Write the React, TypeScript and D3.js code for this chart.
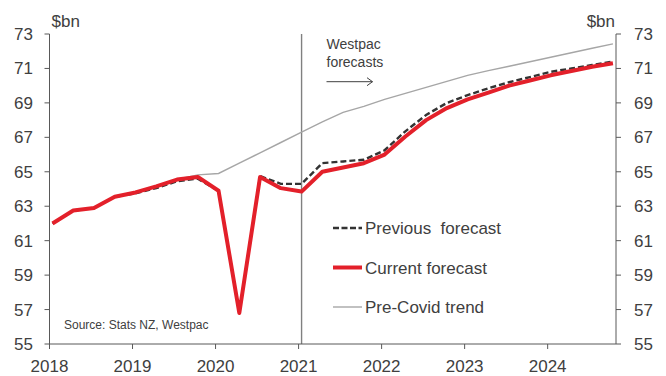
import React from "react";
import * as d3 from "d3";

// Quarterly nominal values, $bn
const quarters = [
  "2018Q1", "2018Q2", "2018Q3", "2018Q4",
  "2019Q1", "2019Q2", "2019Q3", "2019Q4",
  "2020Q1", "2020Q2", "2020Q3", "2020Q4",
  "2021Q1", "2021Q2", "2021Q3", "2021Q4",
  "2022Q1", "2022Q2", "2022Q3", "2022Q4",
  "2023Q1", "2023Q2", "2023Q3", "2023Q4",
  "2024Q1", "2024Q2", "2024Q3", "2024Q4",
];

const currentForecast = [
  62.0, 62.75, 62.9, 63.55,
  63.8, 64.15, 64.55, 64.7,
  63.9, 56.8, 64.7, 64.05,
  63.85, 65.0, 65.25, 65.5,
  66.0, 67.05, 68.0, 68.7,
  69.2, 69.6, 70.0, 70.3,
  70.6, 70.85, 71.1, 71.3,
];

const previousForecast = [
  62.0, 62.75, 62.9, 63.55,
  63.75, 64.05, 64.45, 64.6,
  63.9, 56.8, 64.75, 64.3,
  64.3, 65.5, 65.6, 65.7,
  66.25, 67.35, 68.3, 69.0,
  69.45, 69.85, 70.2, 70.5,
  70.8, 71.0, 71.2, 71.4,
];

const preCovidTrend: (number | null)[] = [
  null, null, null, null,
  null, null, 64.55, 64.82,
  64.9, 65.5, 66.1, 66.7,
  67.3, 67.9, 68.45, 68.8,
  69.2, 69.55, 69.9, 70.25,
  70.6, 70.87, 71.13, 71.39,
  71.65, 71.91, 72.17, 72.43,
];

const yearTicks = [2018, 2019, 2020, 2021, 2022, 2023, 2024];
const valueTicks = [55, 57, 59, 61, 63, 65, 67, 69, 71, 73];
const forecastStart = "2021Q1";

const legendItems = [
  { label: "Previous  forecast", key: "prev" },
  { label: "Current forecast", key: "curr" },
  { label: "Pre-Covid trend", key: "trend" },
];

const W = 666;
const H = 376;
const margin = { left: 49.5, right: 50, top: 34, bottom: 32 };
const font = "'Liberation Sans', Arial, Helvetica, sans-serif";
const textColor = "#404040";
const axisColor = "#595959";

// Each quarter sits just past the start of its slot on the time axis
const quarterToYear = (q: string) =>
  +q.slice(0, 4) + (+q.slice(5) - 1) * 0.25 + 0.036;

export default function App() {
  const x = d3
    .scaleLinear()
    .domain([2018, 2024.823])
    .range([margin.left, W - margin.right]);
  const y = d3
    .scaleLinear()
    .domain([55, 73])
    .range([H - margin.bottom, margin.top]);

  const line = d3
    .line<[string, number | null]>()
    .defined((d) => d[1] !== null)
    .x((d) => x(quarterToYear(d[0])))
    .y((d) => y(d[1] as number));

  const zip = (vals: (number | null)[]) =>
    quarters.map((q, i) => [q, vals[i]] as [string, number | null]);

  const x0 = x.range()[0];
  const x1 = x.range()[1];
  const yB = y.range()[0];
  const yT = y.range()[1];
  const vx = x(quarterToYear(forecastStart));

  const legendX = 333;
  const legendY0 = 228;
  const legendStep = 39.5;

  return (
    <svg
      width={W}
      height={H}
      style={{ position: "absolute", left: 0, top: 0, display: "block", background: "#fff" }}
      fontFamily={font}
    >
      {/* forecast divider */}
      <line x1={vx} x2={vx} y1={yT} y2={yB} stroke="#808080" strokeWidth={1.4} />

      {/* series */}
      <path d={line(zip(preCovidTrend)) || ""} fill="none" stroke="#a6a6a6" strokeWidth={1.4} />
      <path
        d={line(zip(previousForecast)) || ""}
        fill="none"
        stroke="#333333"
        strokeWidth={2.4}
        strokeDasharray="6,3"
      />
      <path
        d={line(zip(currentForecast)) || ""}
        fill="none"
        stroke="#e3202a"
        strokeWidth={4}
        strokeLinejoin="round"
      />

      {/* axes */}
      <line x1={x0} x2={x0} y1={yT} y2={yB} stroke={axisColor} strokeWidth={1} />
      <line x1={x1} x2={x1} y1={yT} y2={yB} stroke={axisColor} strokeWidth={1} />
      <line x1={x0} x2={x1} y1={yB} y2={yB} stroke={axisColor} strokeWidth={1} />
      {valueTicks.map((v) => (
        <g key={v}>
          <line x1={x0 - 5} x2={x0} y1={y(v)} y2={y(v)} stroke={axisColor} />
          <line x1={x1} x2={x1 + 5} y1={y(v)} y2={y(v)} stroke={axisColor} />
          <text x={33} y={y(v) + 6} textAnchor="end" fontSize={17} fill={textColor}>
            {v}
          </text>
          <text x={634} y={y(v) + 6} textAnchor="start" fontSize={17} fill={textColor}>
            {v}
          </text>
        </g>
      ))}
      {yearTicks.map((t) => (
        <g key={t}>
          <line x1={x(t)} x2={x(t)} y1={yB} y2={yB + 5} stroke={axisColor} />
          <text x={x(t)} y={372} textAnchor="middle" fontSize={17} fill={textColor}>
            {t}
          </text>
        </g>
      ))}
      <text x={51.5} y={26.5} fontSize={17} fill={textColor}>
        $bn
      </text>
      <text x={615} y={26.5} textAnchor="end" fontSize={17} fill={textColor}>
        $bn
      </text>

      {/* forecast annotation */}
      <text x={326.5} y={49} fontSize={14} fill={textColor}>
        Westpac
      </text>
      <text x={326.5} y={66.5} fontSize={14} fill={textColor}>
        forecasts
      </text>
      <line x1={326.5} x2={372.5} y1={81.7} y2={81.7} stroke="#404040" strokeWidth={1} />
      <polyline
        points="367,77.7 372.5,81.7 367,85.7"
        fill="none"
        stroke="#404040"
        strokeWidth={1}
      />

      {/* source */}
      <text x={64} y={328.5} fontSize={12} fill={textColor}>
        Source: Stats NZ, Westpac
      </text>

      {/* legend */}
      {legendItems.map((item, i) => {
        const ly = legendY0 + i * legendStep;
        return (
          <g key={item.key}>
            {item.key === "prev" && (
              <line
                x1={legendX}
                x2={legendX + 29}
                y1={ly}
                y2={ly}
                stroke="#333333"
                strokeWidth={2.4}
                strokeDasharray="6,2.5"
              />
            )}
            {item.key === "curr" && (
              <line x1={legendX} x2={legendX + 29} y1={ly} y2={ly} stroke="#e3202a" strokeWidth={4} />
            )}
            {item.key === "trend" && (
              <line x1={legendX} x2={legendX + 29} y1={ly} y2={ly} stroke="#a6a6a6" strokeWidth={1.4} />
            )}
            <text
              x={legendX + 32}
              y={ly + 6}
              fontSize={17}
              fill={textColor}
              style={{ whiteSpace: "pre" }}
            >
              {item.label}
            </text>
          </g>
        );
      })}
    </svg>
  );
}
